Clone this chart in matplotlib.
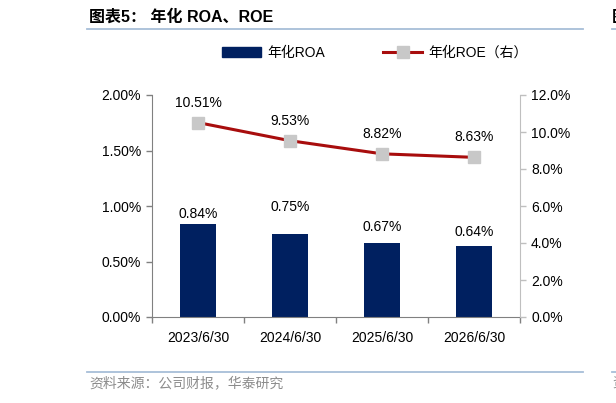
import matplotlib
matplotlib.use("Agg")
import matplotlib.pyplot as plt
from matplotlib.lines import Line2D
from matplotlib.patches import Patch
from matplotlib.ticker import FuncFormatter, MultipleLocator

plt.rcParams['font.family'] = ['Liberation Sans', 'Noto Sans CJK SC']

# data
periods = ['2023/6/30', '2024/6/30', '2025/6/30', '2026/6/30']
roa = [0.84, 0.75, 0.67, 0.64]
roe = [10.51, 9.53, 8.82, 8.63]
roa_label_lift = [10, 27, 16, 14]  # pixels above bar top, as in the source chart

NAVY = '#002060'
RED = '#A80D0D'
MARKER = '#C8C8C8'
RULE = '#A7BED8'

fig = plt.figure(figsize=(6.16, 4.03), dpi=100)
ax = fig.add_axes([152 / 616, 86 / 403, 368 / 616, 222 / 403])
ax2 = ax.twinx()

xs = range(len(periods))
ax.bar(xs, roa, width=0.4, color=NAVY, zorder=2)
ax.set_xlim(-0.5, len(periods) - 0.5)
ax.set_ylim(0, 2.0)
ax.yaxis.set_major_locator(MultipleLocator(0.5))
ax.yaxis.set_major_formatter(FuncFormatter(lambda v, p: '{:.2f}%'.format(v)))

ax.set_xticks(list(xs))
ax.set_xticklabels(periods)
ax.set_xticks([i + 0.5 for i in range(-1, len(periods))], minor=True)
ax.tick_params(axis='x', which='major', length=0, pad=10, labelsize=10)
ax.tick_params(axis='x', which='minor', length=4, width=1, color='#808080', direction='out')
ax.tick_params(axis='y', length=4, width=1, color='#808080', pad=4, labelsize=10)

for name in ['top', 'right']:
    ax.spines[name].set_visible(False)
ax.spines['left'].set_color('#808080')
ax.spines['bottom'].set_color('#808080')

for i, v in enumerate(roa):
    ax.annotate('{:.2f}%'.format(v), (i, v), xytext=(0, roa_label_lift[i]),
                textcoords='offset pixels', ha='center', va='center', fontsize=10)

ax2.plot(list(xs), roe, color=RED, linewidth=2.2, marker='s', markersize=8,
         markerfacecolor=MARKER, markeredgecolor=MARKER, zorder=3)
ax2.set_ylim(0, 12)
ax2.yaxis.set_major_locator(MultipleLocator(2))
ax2.yaxis.set_major_formatter(FuncFormatter(lambda v, p: '{:.1f}%'.format(v)))
ax2.tick_params(axis='y', length=4, width=1, color='#BFBFBF', pad=4, labelsize=10)
for name in ['top', 'left', 'bottom']:
    ax2.spines[name].set_visible(False)
ax2.spines['right'].set_color('#BFBFBF')

for i, v in enumerate(roe):
    ax2.annotate('{:.2f}%'.format(v), (i, v), xytext=(0, 20),
                 textcoords='offset pixels', ha='center', va='center', fontsize=10)

handles = [Patch(facecolor=NAVY, edgecolor=NAVY),
           Line2D([], [], color=RED, linewidth=2.2, marker='s', markersize=8,
                  markerfacecolor=MARKER, markeredgecolor=MARKER)]
fig.legend(handles, ['年化ROA', '年化ROE（右）'], loc='center',
           bbox_to_anchor=(375 / 616, 1 - 53 / 403), ncol=2, frameon=False,
           fontsize=10, handlelength=2.8, handletextpad=0.45, columnspacing=4.2)

# header / footer
fig.text(89 / 616, 1 - 17 / 403, '图表5： 年化 ROA、ROE', fontsize=11.5,
         fontweight='bold', va='center', ha='left')
fig.text(612 / 616, 1 - 17 / 403, '图表6', fontsize=11.5, fontweight='bold',
         va='center', ha='left')
fig.text(89 / 616, 1 - 383 / 403, '资料来源：公司财报，华泰研究', fontsize=10,
         color='#8C8C8C', va='center', ha='left', family=['Noto Sans CJK SC'])
fig.text(612 / 616, 1 - 383 / 403, '资料', fontsize=10, color='#8C8C8C',
         va='center', ha='left', family=['Noto Sans CJK SC'])
for y in [29, 372]:
    fig.add_artist(Line2D([87 / 616, 583 / 616], [1 - y / 403] * 2,
                          transform=fig.transFigure, color=RULE, linewidth=1.3))
    fig.add_artist(Line2D([612 / 616, 1.0], [1 - y / 403] * 2,
                          transform=fig.transFigure, color=RULE, linewidth=1.3))

fig.savefig('out.png', dpi=100)
